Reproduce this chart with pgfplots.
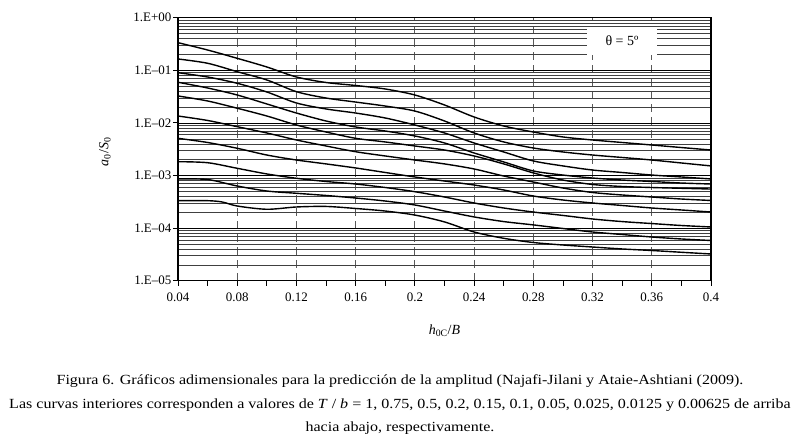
\documentclass[border=0pt]{standalone}
\usepackage{fontspec}
\setmainfont{Liberation Serif}
\usepackage{pgfplots}
\pgfplotsset{compat=1.18}
\tikzset{curve/.style={draw=black, line width=1.4bp, smooth, tension=0.5, solid}}
\begin{document}
\begin{tikzpicture}[x=1bp,y=1bp]
\path[use as bounding box] (0,0) rectangle (801,442);
\begin{axis}[
  at={(178bp,161.3bp)}, anchor=south west,
  scale only axis, width=533bp, height=263bp,
  xmin=0.04, xmax=0.4, ymin=1e-5, ymax=1, ymode=log,
  xtick={0.04,0.08,0.12,0.16,0.2,0.24,0.28,0.32,0.36,0.4},
  xticklabels={0.04,0.08,0.12,0.16,0.2,0.24,0.28,0.32,0.36,0.4},
  ytick={1e-5,1e-4,1e-3,1e-2,1e-1,1},
  yticklabels={1.E–05,1.E–04,1.E–03,1.E–02,1.E–01,1.E+00},
  minor ytick={2e-5,3e-5,4e-5,5e-5,6e-5,7e-5,8e-5,9e-5,
    2e-4,3e-4,4e-4,5e-4,6e-4,7e-4,8e-4,9e-4,
    2e-3,3e-3,4e-3,5e-3,6e-3,7e-3,8e-3,9e-3,
    2e-2,3e-2,4e-2,5e-2,6e-2,7e-2,8e-2,9e-2,
    2e-1,3e-1,4e-1,5e-1,6e-1,7e-1,8e-1,9e-1},
  extra x ticks={0.06,0.10,0.14,0.18,0.22,0.26,0.30,0.34,0.38},
  extra x tick labels={},
  extra x tick style={xmajorgrids=false},
  tick pos=left, tick align=outside,
  major tick length=5bp, minor tick length=0bp,
  xmajorgrids, ymajorgrids, yminorgrids,
  major x grid style={dash pattern=on 8bp off 5bp, black!65, line width=0.9bp},
  major y grid style={black, line width=0.7bp},
  minor y grid style={black!75, line width=0.45bp},
  axis line style={line width=1.2bp},
  every tick/.style={black, line width=0.9bp},
  ticklabel style={font=\fontsize{13}{15}\selectfont},
  xticklabel style={yshift=-4bp},
  yticklabel style={inner sep=1.5bp},
  xlabel={\textit{h}\textsubscript{0C}/\textit{B}},
  ylabel={\textit{a}\textsubscript{0}/\textit{S}\textsubscript{0}},
  xlabel style={at={(axis description cs:0.5,-0.19)}, anchor=center, font=\fontsize{14}{16}\selectfont},
  ylabel style={at={(axis description cs:-0.137,0.49)}, anchor=center, rotate=0, font=\fontsize{14}{16}\selectfont},
]
% T/b = 1
\addplot[curve] coordinates {(0.04,0.335)(0.06,0.243)(0.08,0.169)(0.10,0.1156)(0.12,0.0746)(0.14,0.0586)(0.16,0.0514)(0.18,0.0441)(0.20,0.0339)(0.22,0.0219)(0.24,0.01294)(0.26,0.00873)(0.28,0.00671)(0.30,0.00540)(0.32,0.00473)(0.34,0.00424)(0.36,0.00380)(0.38,0.00340)(0.40,0.00305)};
% T/b = 0.75
\addplot[curve] coordinates {(0.04,0.164)(0.06,0.136)(0.08,0.0940)(0.10,0.0655)(0.12,0.0392)(0.14,0.0297)(0.16,0.0249)(0.18,0.0209)(0.20,0.0168)(0.22,0.01087)(0.24,0.00643)(0.26,0.00434)(0.28,0.00333)(0.30,0.00280)(0.32,0.00245)(0.34,0.00220)(0.36,0.00197)(0.38,0.00173)(0.40,0.00152)};
% T/b = 0.5
\addplot[curve] coordinates {(0.04,0.0900)(0.06,0.0746)(0.08,0.0566)(0.10,0.0387)(0.12,0.0239)(0.14,0.0184)(0.16,0.0154)(0.18,0.01239)(0.20,0.00912)(0.22,0.00643)(0.24,0.00415)(0.26,0.00280)(0.28,0.00189)(0.30,0.00152)(0.32,0.00127)(0.34,0.00114)(0.36,0.00102)(0.38,0.000937)(0.40,0.000859)};
% T/b = 0.2
\addplot[curve] coordinates {(0.04,0.0592)(0.06,0.0461)(0.08,0.0339)(0.10,0.0229)(0.12,0.0154)(0.14,0.01087)(0.16,0.00836)(0.18,0.00701)(0.20,0.00564)(0.22,0.00415)(0.24,0.00268)(0.26,0.00181)(0.28,0.00122)(0.30,0.00102)(0.32,0.000895)(0.34,0.000820)(0.36,0.000769)(0.38,0.000719)(0.40,0.000689)};
% T/b = 0.15
\addplot[curve] coordinates {(0.04,0.0325)(0.06,0.0261)(0.08,0.0190)(0.10,0.01352)(0.12,0.00912)(0.14,0.00671)(0.16,0.00509)(0.18,0.00434)(0.20,0.00364)(0.22,0.00305)(0.24,0.00235)(0.26,0.00166)(0.28,0.00112)(0.30,0.000820)(0.32,0.000675)(0.34,0.000618)(0.36,0.000591)(0.38,0.000571)(0.40,0.000553)};
% T/b = 0.1
\addplot[curve] coordinates {(0.04,0.01352)(0.06,0.01112)(0.08,0.00847)(0.10,0.00643)(0.12,0.00473)(0.14,0.00364)(0.16,0.00283)(0.18,0.00235)(0.20,0.00197)(0.22,0.00166)(0.24,0.00133)(0.26,0.000977)(0.28,0.000752)(0.30,0.000578)(0.32,0.000475)(0.34,0.000426)(0.36,0.000390)(0.38,0.000357)(0.40,0.000335)};
% T/b = 0.05
\addplot[curve] coordinates {(0.04,0.00509)(0.06,0.00424)(0.08,0.00329)(0.10,0.00245)(0.12,0.00197)(0.14,0.00166)(0.16,0.00139)(0.18,0.00114)(0.20,0.000937)(0.22,0.000785)(0.24,0.000659)(0.26,0.000530)(0.28,0.000407)(0.30,0.000342)(0.32,0.000300)(0.34,0.000269)(0.36,0.000241)(0.38,0.000221)(0.40,0.000202)};
% T/b = 0.025
\addplot[curve] coordinates {(0.04,0.00183)(0.06,0.00175)(0.08,0.00137)(0.10,0.00107)(0.12,0.000885)(0.14,0.000769)(0.16,0.000689)(0.18,0.000591)(0.20,0.000492)(0.22,0.000390)(0.24,0.000300)(0.26,0.000241)(0.28,0.000202)(0.30,0.000174)(0.32,0.000149)(0.34,0.000133)(0.36,0.000122)(0.38,0.000112)(0.40,0.000105)};
% T/b = 0.0125
\addplot[curve] coordinates {(0.04,0.000859)(0.06,0.000839)(0.08,0.000631)(0.10,0.000507)(0.12,0.000459)(0.14,0.000417)(0.16,0.000373)(0.18,0.000327)(0.20,0.000275)(0.22,0.000211)(0.24,0.000163)(0.26,0.000133)(0.28,0.000115)(0.30,0.0000982)(0.32,0.0000843)(0.34,0.0000755)(0.36,0.0000677)(0.38,0.0000621)(0.40,0.0000581)};
% T/b = 0.00625
\addplot[curve] coordinates {(0.04,0.000332)(0.06,0.000332)(0.07,0.000313)(0.08,0.000263)(0.10,0.000228)(0.12,0.000252)(0.14,0.000258)(0.16,0.000236)(0.18,0.000211)(0.20,0.000177)(0.22,0.000131)(0.24,0.0000843)(0.26,0.0000640)(0.28,0.0000532)(0.30,0.0000477)(0.32,0.0000437)(0.34,0.0000401)(0.36,0.0000375)(0.38,0.0000347)(0.40,0.0000322)};
\node[fill=white, minimum width=70bp, minimum height=28bp, inner sep=0pt, font=\fontsize{14}{16}\selectfont] at (rel axis cs:0.833,0.911) {θ = 5º};
\end{axis}
\begin{scope}[font=\fontsize{14}{16}\selectfont]
\node at (400,61) {\scalebox{1.15}[1]{Figura 6. Gráficos adimensionales para la predicción de la amplitud (Najafi-Jilani y Ataie-Ashtiani (2009).}};
\node at (400,37) {\scalebox{1.15}[1]{Las curvas interiores corresponden a valores de \textit{T} / \textit{b} = 1, 0.75, 0.5, 0.2, 0.15, 0.1, 0.05, 0.025, 0.0125 y 0.00625 de arriba}};
\node at (400,14) {\scalebox{1.15}[1]{hacia abajo, respectivamente.}};
\end{scope}
\end{tikzpicture}
\end{document}
